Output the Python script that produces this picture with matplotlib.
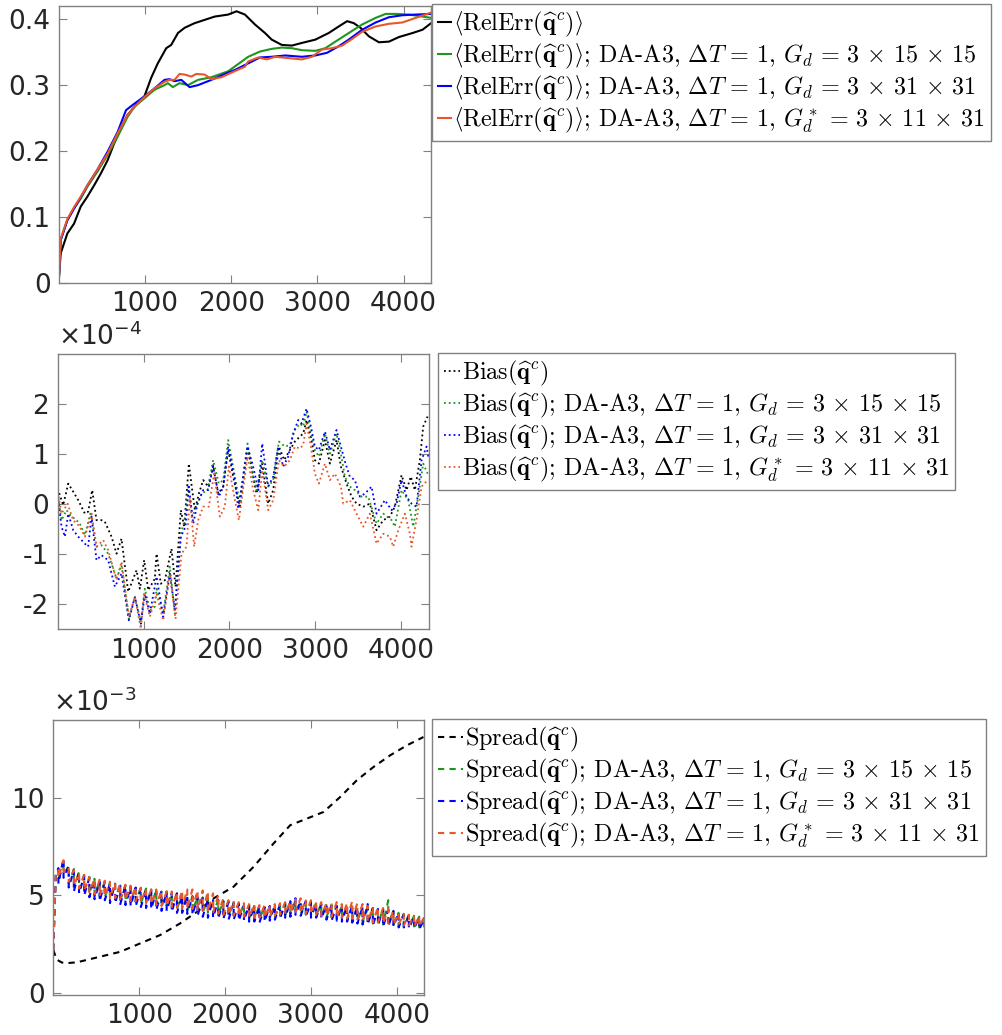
import matplotlib
matplotlib.use('Agg')
import matplotlib.pyplot as plt
import numpy as np

plt.rcParams['font.family'] = ['DejaVu Sans']
plt.rcParams['mathtext.fontset'] = 'cm'
plt.rcParams['axes.unicode_minus'] = False

T_END = 4320
C_BLACK = 'k'
C_GREEN = '#1e961e'
C_BLUE = '#0000ff'
C_ORANGE = '#e8572a'

labels_tail = [r'; DA-A3, $\Delta T\,=\,1$, $G_d\,{=}\,3\,\times\,15\,\times\,15$',
               r'; DA-A3, $\Delta T\,=\,1$, $G_d\,{=}\,3\,\times\,31\,\times\,31$',
               r'; DA-A3, $\Delta T\,=\,1$, $G^*_d\,{=}\,3\,\times\,11\,\times\,31$']

# ---- panel 1: <RelErr>
relerr_ref_t = [0, 20, 97, 175, 253, 330, 408, 486, 564, 642, 720, 797, 914, 992, 1070, 1147, 1245, 1303,
                1381, 1459, 1575, 1692, 1809, 1964, 2062, 2159, 2275, 2392, 2470, 2587, 2704, 2820, 2976,
                3131, 3248, 3345, 3423, 3500, 3598, 3714, 3831, 3948, 4104, 4220, 4320]
relerr_ref = [0.009, 0.045, 0.075, 0.090, 0.116, 0.131, 0.148, 0.166, 0.186, 0.212, 0.235, 0.255, 0.273, 0.283,
              0.311, 0.333, 0.356, 0.361, 0.379, 0.387, 0.394, 0.399, 0.404, 0.407, 0.412, 0.407, 0.392, 0.379,
              0.369, 0.361, 0.360, 0.364, 0.369, 0.379, 0.389, 0.397, 0.394, 0.387, 0.374, 0.365, 0.366, 0.373,
              0.379, 0.384, 0.394]
relerr_g15_t = [0, 20, 97, 175, 253, 330, 447, 564, 681, 797, 875, 992, 1109, 1225, 1264, 1322, 1400, 1498,
                1614, 1770, 1964, 2197, 2334, 2470, 2587, 2704, 2820, 2976, 3092, 3209, 3364, 3520, 3676,
                3792, 3909, 4065, 4220, 4320]
relerr_g15 = [0.009, 0.065, 0.095, 0.113, 0.128, 0.146, 0.169, 0.194, 0.222, 0.252, 0.267, 0.280, 0.293, 0.300,
              0.303, 0.297, 0.303, 0.300, 0.308, 0.312, 0.321, 0.343, 0.351, 0.355, 0.357, 0.356, 0.353, 0.352,
              0.356, 0.366, 0.379, 0.392, 0.402, 0.408, 0.408, 0.407, 0.404, 0.402]
relerr_g31_t = [0, 20, 97, 175, 253, 330, 447, 564, 681, 778, 856, 992, 1109, 1225, 1284, 1342, 1420, 1517,
                1614, 1770, 1964, 2042, 2197, 2334, 2470, 2626, 2820, 2976, 3111, 3248, 3364, 3520, 3676,
                3831, 3987, 4142, 4320]
relerr_g31 = [0.009, 0.065, 0.095, 0.113, 0.130, 0.148, 0.172, 0.199, 0.229, 0.262, 0.270, 0.283, 0.295, 0.308,
              0.309, 0.306, 0.308, 0.297, 0.300, 0.308, 0.319, 0.323, 0.333, 0.342, 0.343, 0.345, 0.343, 0.345,
              0.349, 0.359, 0.369, 0.384, 0.395, 0.403, 0.406, 0.407, 0.408]
relerr_g11_t = [0, 20, 97, 175, 253, 330, 447, 564, 681, 797, 875, 992, 1109, 1225, 1284, 1342, 1400, 1459,
                1536, 1595, 1692, 1770, 1887, 2003, 2159, 2197, 2314, 2412, 2509, 2665, 2820, 2937, 3053,
                3170, 3287, 3403, 3520, 3676, 3831, 3987, 4142, 4320]
relerr_g11 = [0.009, 0.067, 0.097, 0.115, 0.131, 0.148, 0.172, 0.196, 0.227, 0.255, 0.267, 0.282, 0.295, 0.305,
              0.308, 0.308, 0.317, 0.316, 0.313, 0.317, 0.316, 0.309, 0.312, 0.319, 0.328, 0.336, 0.342, 0.339,
              0.343, 0.341, 0.339, 0.343, 0.354, 0.356, 0.360, 0.370, 0.381, 0.389, 0.393, 0.395, 0.402, 0.410]

# ---- panel 2: Bias (units of 1e-4)
bias_ref_t = [0, 64, 123, 181, 239, 317, 355, 402, 452, 510, 549, 627, 685, 743, 821, 918, 957, 1007, 1054,
              1131, 1151, 1201, 1248, 1325, 1372, 1434, 1473, 1527, 1566, 1597, 1644, 1694, 1752, 1810, 1869,
              1927, 1985, 2043, 2121, 2210, 2276, 2315, 2381, 2451, 2509, 2575, 2637, 2703, 2761, 2820, 2858,
              2897, 2948, 2994, 3041, 3111, 3169, 3246, 3297, 3363, 3421, 3479, 3557, 3634, 3712, 3790, 3867,
              3925, 4003, 4061, 4111, 4158, 4216, 4255, 4306]
bias_ref = [0.31, -0.02, 0.41, 0.25, 0.08, -0.19, -0.15, 0.28, -0.32, -0.32, -0.35, -0.65, -0.99, -0.69, -1.75,
            -1.32, -1.69, -1.12, -1.72, -1.49, -0.99, -1.59, -1.52, -0.89, -1.65, -0.12, -0.45, 0.81, 0.28, -0.12,
            0.21, 0.48, 0.35, 0.78, 0.21, 0.35, 1.08, 0.55, -0.05, 1.15, 0.55, 0.21, 0.81, 0.01, 0.28, 1.15, 0.88,
            1.08, 1.25, 1.35, 1.41, 1.68, 1.35, 0.88, 0.81, 1.28, 0.81, 1.28, 0.75, 0.41, 0.15, 0.01, -0.05, 0.01,
            -0.52, -0.32, -0.25, -0.05, 0.58, 0.28, 0.55, 0.28, 0.88, 1.55, 1.75]
bias_g15_t = [0, 45, 103, 161, 200, 258, 317, 386, 452, 510, 588, 685, 743, 829, 899, 968, 1015, 1073, 1131,
              1151, 1228, 1306, 1364, 1434, 1488, 1519, 1566, 1616, 1675, 1745, 1810, 1876, 1927, 1985, 2063,
              2121, 2210, 2276, 2315, 2381, 2451, 2509, 2575, 2645, 2703, 2761, 2820, 2858, 2897, 2948, 2994,
              3041, 3111, 3169, 3246, 3297, 3343, 3401, 3460, 3538, 3615, 3712, 3790, 3887, 3925, 4003, 4081,
              4139, 4197, 4255, 4306]
bias_g15 = [0.21, -0.32, -0.12, -0.25, -0.29, -0.39, -0.62, -0.15, -0.85, -0.82, -0.99, -1.49, -1.22, -2.29,
            -1.85, -2.35, -1.69, -2.12, -2.05, -1.69, -2.19, -1.25, -2.19, -0.59, -0.25, 0.35, -0.25, -0.05, 0.21,
            0.28, 0.88, 0.41, 0.48, 1.28, 0.55, 0.01, 1.21, 0.55, 0.28, 0.88, 0.35, 0.48, 1.25, 1.15, 1.18, 1.48,
            1.61, 1.55, 1.85, 1.41, 1.08, 0.95, 1.41, 1.01, 1.41, 1.01, 0.55, 0.35, 0.28, 0.15, 0.15, -0.39, -0.19,
            -0.32, -0.45, 0.28, 0.08, -0.45, 0.15, 0.81, 0.61]
bias_g31_t = [0, 45, 84, 123, 181, 239, 317, 355, 394, 452, 510, 588, 666, 743, 829, 899, 968, 1015, 1073,
              1151, 1228, 1306, 1364, 1434, 1488, 1527, 1578, 1628, 1694, 1752, 1810, 1876, 1927, 1985, 2063,
              2102, 2210, 2276, 2335, 2381, 2451, 2509, 2567, 2625, 2684, 2742, 2800, 2839, 2897, 2948, 2994,
              3041, 3111, 3169, 3246, 3297, 3351, 3401, 3460, 3518, 3576, 3654, 3712, 3809, 3887, 3945, 4003,
              4061, 4119, 4177, 4236, 4294, 4320]
bias_g31 = [0.18, -0.45, -0.65, -0.19, -0.52, -0.65, -0.79, -0.85, -0.25, -1.12, -1.02, -1.12, -1.65, -1.39,
            -2.32, -1.85, -2.39, -1.79, -2.19, -1.45, -2.25, -1.39, -2.12, -0.65, -0.45, 0.35, -0.39, 0.01, 0.28,
            0.28, 0.75, 0.15, 0.35, 1.15, 0.48, -0.09, 1.15, 0.75, 0.28, 1.21, 0.35, 0.55, 1.15, 0.75, 0.95, 1.41,
            1.68, 1.61, 1.91, 1.55, 1.15, 1.08, 1.45, 1.08, 1.48, 1.15, 0.81, 0.55, 0.48, 0.15, 0.21, 0.35, -0.19,
            0.08, -0.12, 0.01, 0.48, 0.15, 0.01, -0.05, 0.88, 1.15, 0.90]
bias_g11_t = [0, 45, 115, 181, 258, 317, 394, 452, 530, 588, 685, 743, 829, 899, 968, 1007, 1073, 1151, 1228,
              1306, 1372, 1442, 1500, 1539, 1589, 1636, 1694, 1760, 1822, 1888, 1946, 1993, 2063, 2109, 2210,
              2276, 2335, 2381, 2451, 2509, 2575, 2637, 2703, 2761, 2820, 2858, 2897, 2948, 2994, 3041, 3111,
              3169, 3227, 3297, 3324, 3401, 3479, 3557, 3634, 3712, 3790, 3867, 3906, 3965, 4042, 4100, 4119,
              4177, 4236, 4306]
bias_g11 = [0.25, -0.19, 0.01, -0.32, -0.45, -0.65, -0.19, -0.85, -0.72, -0.92, -1.52, -1.15, -2.25, -1.85,
            -2.49, -1.79, -2.25, -1.79, -2.32, -1.39, -2.29, -0.99, -0.85, 0.15, -0.85, -0.32, -0.05, -0.05, 0.61,
            -0.25, -0.05, 0.75, 0.08, -0.32, 0.95, 0.28, -0.12, 0.68, -0.12, 0.08, 0.88, 0.75, 0.88, 1.15, 1.11,
            1.18, 1.61, 1.15, 0.61, 0.41, 0.81, 0.48, 0.61, 0.35, 0.01, 0.08, -0.19, -0.45, -0.19, -0.79, -0.59,
            -0.65, -0.85, -0.52, -0.19, -0.59, -0.85, -0.32, 0.35, 0.48]

# ---- panel 3: Spread (units of 1e-3)
spread_ref_t = [0, 40, 100, 158, 275, 546, 779, 1011, 1244, 1477, 1672, 1865, 2098, 2331, 2564, 2758, 2952,
                3146, 3340, 3534, 3728, 3922, 4116, 4310]
spread_ref = [2.2, 1.7, 1.55, 1.52, 1.56, 1.85, 2.10, 2.53, 2.96, 3.56, 4.15, 4.84, 5.44, 6.46, 7.66, 8.60,
              8.94, 9.28, 10.05, 10.91, 11.59, 12.19, 12.70, 13.13]

spread_start_t = [0, 30]
spread_start = [2.2, 6.1]
da_times = np.arange(60, T_END + 1, 60)
# value just before (peak) and just after (trough) each analysis step
g31_peak = [6.4, 6.9, 6.5, 6.3, 6.2, 6.0, 5.9, 5.8, 5.7, 5.7, 5.6, 5.6,
            5.5, 5.5, 5.4, 5.4, 5.35, 5.3, 5.3, 5.2, 5.2, 5.15, 5.1, 5.1,
            5.0, 5.0, 4.95, 4.9, 4.85, 4.8, 4.8, 4.75, 4.7, 4.65, 4.6, 4.55,
            4.5, 4.5, 4.45, 4.4, 4.4, 4.45, 4.5, 4.55, 4.6, 4.7, 4.85, 4.7,
            4.7, 4.65, 4.6, 4.55, 4.5, 4.5, 4.45, 4.5, 4.45, 4.5, 4.4, 4.4,
            4.55, 4.35, 4.3, 4.3, 4.25, 4.2, 4.1, 4.0, 3.95, 3.9, 3.85, 3.8]
g31_trough = [5.6, 5.9, 5.4, 5.2, 5.1, 5.0, 4.9, 4.8, 4.7, 4.75, 4.6, 4.6,
              4.55, 4.5, 4.45, 4.45, 4.4, 4.35, 4.3, 4.25, 4.2, 4.2, 4.15, 4.1,
              4.1, 4.05, 4.0, 3.95, 3.9, 3.85, 3.85, 3.8, 3.8, 3.75, 3.75, 3.7,
              3.7, 3.65, 3.65, 3.6, 3.65, 3.7, 3.75, 3.8, 3.85, 3.9, 4.0, 3.95,
              3.9, 3.85, 3.85, 3.8, 3.75, 3.7, 3.7, 3.65, 3.65, 3.6, 3.55, 3.5,
              3.5, 3.45, 3.45, 3.4, 3.4, 3.4, 3.35, 3.35, 3.3, 3.3, 3.25, 3.2]
g15_peak = [6.3, 6.8, 6.5, 6.35, 6.2, 6.05, 5.95, 5.85, 5.75, 5.7, 5.65, 5.6,
            5.55, 5.5, 5.45, 5.45, 5.4, 5.35, 5.3, 5.25, 5.2, 5.2, 5.1, 5.1,
            5.05, 5.0, 4.95, 4.9, 4.9, 4.85, 4.8, 4.75, 4.7, 4.7, 4.65, 4.6,
            4.55, 4.5, 4.45, 4.45, 4.4, 4.4, 4.45, 4.5, 4.55, 4.65, 4.75, 4.7,
            4.65, 4.65, 4.6, 4.55, 4.5, 4.5, 4.45, 4.45, 4.45, 4.4, 4.4, 4.35,
            4.3, 4.3, 4.25, 4.3, 4.75, 4.2, 4.1, 4.05, 4.0, 3.95, 3.9, 3.85]
g15_trough = [5.8, 6.1, 5.6, 5.4, 5.3, 5.2, 5.1, 5.0, 4.95, 4.9, 4.85, 4.8,
              4.75, 4.7, 4.65, 4.65, 4.6, 4.55, 4.5, 4.45, 4.4, 4.4, 4.35, 4.3,
              4.3, 4.25, 4.2, 4.15, 4.1, 4.05, 4.05, 4.0, 4.0, 3.95, 3.95, 3.9,
              3.85, 3.85, 3.8, 3.8, 3.8, 3.85, 3.9, 3.95, 4.0, 4.05, 4.1, 4.05,
              4.0, 4.0, 3.95, 3.9, 3.9, 3.85, 3.8, 3.8, 3.75, 3.75, 3.7, 3.65,
              3.6, 3.55, 3.55, 3.5, 3.5, 3.5, 3.45, 3.45, 3.4, 3.4, 3.35, 3.35]
g11_peak = [6.3, 6.8, 6.45, 6.3, 6.15, 6.05, 5.95, 5.85, 5.8, 5.75, 5.7, 5.65,
            5.6, 5.55, 5.5, 5.45, 5.4, 5.35, 5.3, 5.3, 5.25, 5.2, 5.2, 5.15,
            5.25, 5.3, 5.3, 5.25, 5.25, 5.2, 5.1, 5.0, 4.85, 4.75, 4.7, 4.65,
            4.6, 4.55, 4.55, 4.5, 4.5, 4.5, 4.55, 4.6, 4.65, 4.7, 4.8, 4.85,
            4.8, 4.75, 4.7, 4.65, 4.6, 4.6, 4.65, 4.55, 4.6, 4.7, 4.6, 4.55,
            4.45, 4.4, 4.4, 4.35, 4.3, 4.2, 4.1, 4.05, 4.0, 3.95, 3.9, 3.9]
g11_trough = [5.9, 6.2, 5.7, 5.5, 5.35, 5.25, 5.15, 5.05, 4.95, 4.95, 4.85, 4.85,
              4.8, 4.75, 4.7, 4.7, 4.65, 4.6, 4.55, 4.5, 4.45, 4.45, 4.4, 4.35,
              4.35, 4.3, 4.3, 4.25, 4.2, 4.15, 4.1, 4.05, 4.0, 4.0, 3.95, 3.9,
              3.9, 3.85, 3.85, 3.85, 3.85, 3.9, 3.95, 4.0, 4.05, 4.1, 4.15, 4.1,
              4.05, 4.05, 4.0, 3.95, 3.95, 3.9, 3.85, 3.85, 3.8, 3.8, 3.75, 3.7,
              3.65, 3.6, 3.6, 3.55, 3.55, 3.5, 3.5, 3.45, 3.45, 3.4, 3.4, 3.35]


def sawtooth(peak, trough):
    t = list(spread_start_t)
    v = list(spread_start)
    for tk, p, q in zip(da_times, peak, trough):
        t += [tk, tk]
        v += [p, q]
    return t, v


def style_axes(ax):
    for s in ax.spines.values():
        s.set_color('#808080')
        s.set_linewidth(1.0)
    ax.tick_params(direction='in', length=6, width=0.8, color='#808080',
                   top=True, right=True, labelsize=19, labelcolor='#262626', pad=6)
    ax.set_xlim(0, T_END)
    ax.set_xticks([1000, 2000, 3000, 4000])


def style_legend(leg):
    fr = leg.get_frame()
    fr.set_edgecolor('#808080')
    fr.set_linewidth(1.0)


fig = plt.figure(figsize=(10.03, 10.35), dpi=100)
leg_prop = {'family': 'cmr10', 'size': 17.4}
leg_kw = dict(prop=leg_prop, loc='upper left', borderaxespad=0, fancybox=False, framealpha=1,
              handletextpad=0.08, borderpad=0.25, labelspacing=0.12)

# panel 1  (\mathcal{h}, \mathcal{i} are the cmsy angle brackets)
ax1 = fig.add_axes([0.0588, 0.7266, 0.371, 0.2676])
re_lab = r'$\mathcal{h}\mathrm{RelErr}(\widehat{\mathbf{q}}^c)\mathcal{i}$'
ax1.plot(relerr_ref_t, relerr_ref, color=C_BLACK, lw=1.5, label=re_lab)
ax1.plot(relerr_g15_t, relerr_g15, color=C_GREEN, lw=1.5, label=re_lab + labels_tail[0])
ax1.plot(relerr_g31_t, relerr_g31, color=C_BLUE, lw=1.5, label=re_lab + labels_tail[1])
ax1.plot(relerr_g11_t, relerr_g11, color=C_ORANGE, lw=1.5, label=re_lab + labels_tail[2])
style_axes(ax1)
ax1.set_ylim(0, 0.42)
ax1.set_yticks([0, 0.1, 0.2, 0.3, 0.4])
ax1.set_yticklabels(['0', '0.1', '0.2', '0.3', '0.4'])
leg1 = ax1.legend(bbox_to_anchor=(0.4307, 0.9961), bbox_transform=fig.transFigure,
                  handlelength=0.55, **leg_kw)
style_legend(leg1)

# panel 2
ax2 = fig.add_axes([0.0575, 0.392, 0.370, 0.266])
bi_lab = r'$\mathrm{Bias}(\widehat{\mathbf{q}}^c)$'
ax2.plot(bias_ref_t, bias_ref, color=C_BLACK, lw=1.3, ls=':', label=bi_lab)
ax2.plot(bias_g15_t, bias_g15, color=C_GREEN, lw=1.3, ls=':', label=bi_lab + labels_tail[0])
ax2.plot(bias_g31_t, bias_g31, color=C_BLUE, lw=1.3, ls=':', label=bi_lab + labels_tail[1])
ax2.plot(bias_g11_t, bias_g11, color=C_ORANGE, lw=1.3, ls=':', label=bi_lab + labels_tail[2])
style_axes(ax2)
ax2.set_ylim(-2.5, 3.0)
ax2.set_yticks([-2, -1, 0, 1, 2])
ax2.set_yticklabels(['-2', '-1', '0', '1', '2'])
ax2.text(0.0, 1.012, r'$\times\mathregular{10^{-4}}$', transform=ax2.transAxes, fontsize=19,
         color='#262626', math_fontfamily='dejavusans', ha='left', va='bottom')
leg2 = ax2.legend(bbox_to_anchor=(0.4367, 0.659), bbox_transform=fig.transFigure,
                  handlelength=0.65, **leg_kw)
style_legend(leg2)

# panel 3
ax3 = fig.add_axes([0.0531, 0.0386, 0.370, 0.2657])
sp_lab = r'$\mathrm{Spread}(\widehat{\mathbf{q}}^c)$'
ax3.plot(spread_ref_t, spread_ref, color=C_BLACK, lw=1.5, dashes=(3, 2.5), label=sp_lab)
for pk, tr, c, tail in [(g15_peak, g15_trough, C_GREEN, labels_tail[0]),
                        (g31_peak, g31_trough, C_BLUE, labels_tail[1]),
                        (g11_peak, g11_trough, C_ORANGE, labels_tail[2])]:
    tt, vv = sawtooth(pk, tr)
    ax3.plot(tt, vv, color=c, lw=1.5, dashes=(3, 2.5), label=sp_lab + tail)
style_axes(ax3)
ax3.set_ylim(-0.12, 14.0)
ax3.set_yticks([0, 5, 10])
ax3.text(0.0, 1.012, r'$\times\mathregular{10^{-3}}$', transform=ax3.transAxes, fontsize=19,
         color='#262626', math_fontfamily='dejavusans', ha='left', va='bottom')
leg3 = ax3.legend(bbox_to_anchor=(0.4307, 0.3053), bbox_transform=fig.transFigure,
                  handlelength=1.05, **leg_kw)
style_legend(leg3)

fig.savefig('out.png', dpi=100)
